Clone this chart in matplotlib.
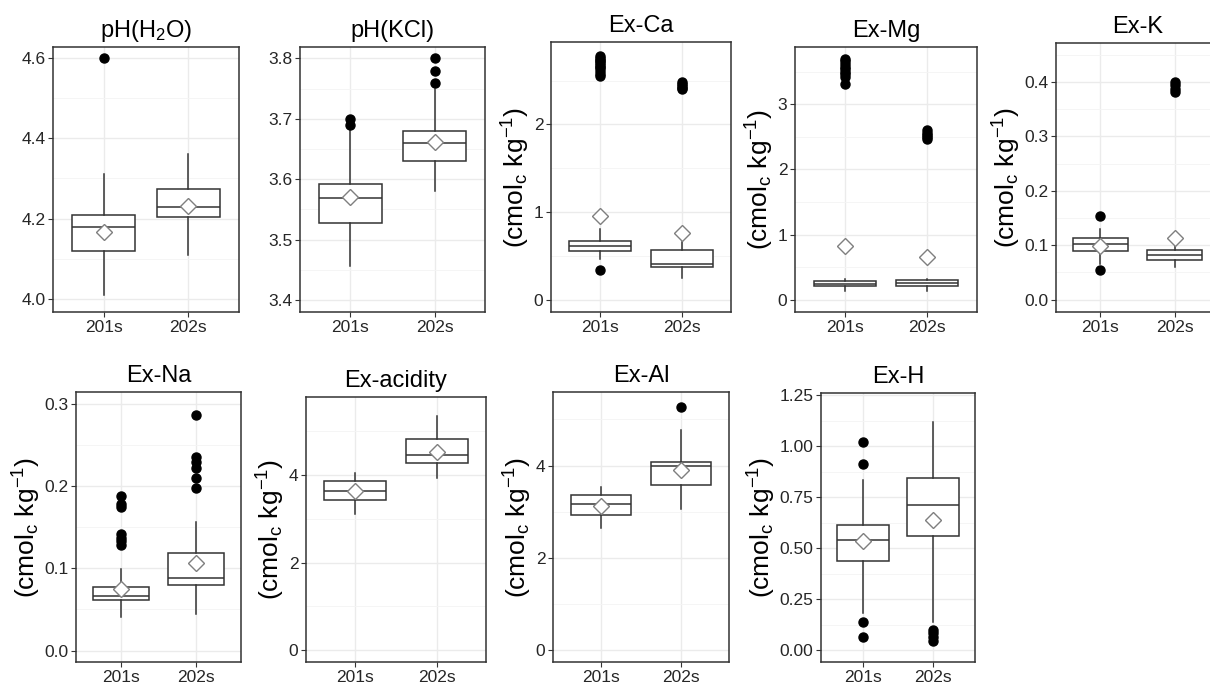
import matplotlib
matplotlib.use("Agg")
import matplotlib.pyplot as plt

plt.rcParams["font.family"] = ["Liberation Sans", "DejaVu Sans"]
plt.rcParams["mathtext.fontset"] = "custom"
plt.rcParams["mathtext.rm"] = "Liberation Sans"
plt.rcParams["mathtext.it"] = "Liberation Sans:italic"

# ---- data ----
groups = ["201s", "202s"]
titles = ["pH(H$_2$O)", "pH(KCl)", "Ex-Ca", "Ex-Mg", "Ex-K",
          "Ex-Na", "Ex-acidity", "Ex-Al", "Ex-H"]

q1 = [[4.12, 4.205], [3.528, 3.630], [0.555, 0.373], [0.205, 0.205], [0.090, 0.072],
      [0.062, 0.080], [3.42, 4.27], [2.92, 3.57], [0.439, 0.558]]
med = [[4.18, 4.23], [3.569, 3.660], [0.608, 0.41], [0.246, 0.25], [0.102, 0.082],
       [0.0667, 0.088], [3.63, 4.46], [3.16, 3.98], [0.542, 0.713]]
q3 = [[4.21, 4.275], [3.592, 3.680], [0.669, 0.563], [0.287, 0.297], [0.113, 0.092],
      [0.077, 0.119], [3.86, 4.81], [3.37, 4.07], [0.615, 0.843]]
whislo = [[4.01, 4.11], [3.457, 3.58], [0.47, 0.247], [0.13, 0.14], [0.066, 0.060],
          [0.041, 0.045], [3.12, 3.94], [2.65, 3.06], [0.183, 0.139]]
whishi = [[4.31, 4.36], [3.685, 3.75], [0.81, 0.66], [0.31, 0.32], [0.129, 0.103],
          [0.099, 0.157], [4.05, 5.34], [3.53, 4.76], [0.835, 1.117]]
means = [[4.167, 4.232], [3.570, 3.662], [0.954, 0.764], [0.82, 0.655], [0.098, 0.113],
         [0.075, 0.107], [3.63, 4.52], [3.12, 3.91], [0.537, 0.636]]
outliers = [
    [[4.60], []],
    [[3.69, 3.70], [3.76, 3.78, 3.80]],
    [[2.55, 2.58, 2.61, 2.64, 2.66, 2.68, 2.70, 2.72, 2.74, 2.76, 2.78, 0.34],
     [2.40, 2.42, 2.44, 2.46, 2.48]],
    [[3.31, 3.42, 3.46, 3.50, 3.54, 3.58, 3.62, 3.66, 3.70], [2.47, 2.50, 2.53, 2.56, 2.60]],
    [[0.153, 0.055], [0.382, 0.388, 0.394, 0.400]],
    [[0.188, 0.178, 0.175, 0.142, 0.137, 0.133, 0.128],
     [0.287, 0.236, 0.230, 0.222, 0.210, 0.198]],
    [[], []],
    [[], [5.26]],
    [[1.02, 0.91, 0.14, 0.065], [0.10, 0.085, 0.065, 0.048]],
]

yticks = [[4.0, 4.2, 4.4, 4.6], [3.4, 3.5, 3.6, 3.7, 3.8], [0, 1, 2], [0, 1, 2, 3],
          [0.0, 0.1, 0.2, 0.3, 0.4], [0.0, 0.1, 0.2, 0.3], [0, 2, 4], [0, 2, 4],
          [0.0, 0.25, 0.5, 0.75, 1.0, 1.25]]
ytick_labels = [["4.0", "4.2", "4.4", "4.6"], ["3.4", "3.5", "3.6", "3.7", "3.8"],
                ["0", "1", "2"], ["0", "1", "2", "3"],
                ["0.0", "0.1", "0.2", "0.3", "0.4"], ["0.0", "0.1", "0.2", "0.3"],
                ["0", "2", "4"], ["0", "2", "4"],
                ["0.00", "0.25", "0.50", "0.75", "1.00", "1.25"]]
ylims = [(3.968, 4.627), (3.38, 3.819), (-0.14, 2.94), (-0.19, 3.88), (-0.023, 0.472),
         (-0.014, 0.315), (-0.27, 5.78), (-0.25, 5.59), (-0.057, 1.26)]
ylabel = "(cmol$_\\mathrm{c}$ kg$^{\\mathrm{-1}}$)"

# ---- layout (pixel boxes: left, top, right, bottom) ----
W, H = 1210, 683
boxes = [(53, 47, 239, 312), (300, 47, 485, 312), (551, 42, 731, 312),
         (795, 47, 977, 312), (1056, 43, 1219, 312),
         (76, 392, 241, 662), (306, 397, 486, 662), (553, 392, 729, 662),
         (821, 393, 975, 662)]

fig = plt.figure(figsize=(W / 100, H / 100), dpi=100)
fig.patch.set_facecolor("white")

line_c = "#333333"
for i, title in enumerate(titles):
    l, t, r, b = boxes[i]
    ax = fig.add_axes([l / W, 1 - b / H, (r - l) / W, (b - t) / H])

    stats = []
    for g in range(2):
        stats.append(dict(med=med[i][g], q1=q1[i][g], q3=q3[i][g],
                          whislo=whislo[i][g], whishi=whishi[i][g],
                          mean=means[i][g], fliers=outliers[i][g]))
    ax.bxp(stats, positions=[1, 2], widths=0.75, showmeans=True,
           showcaps=False, patch_artist=True,
           boxprops=dict(facecolor="white", edgecolor=line_c, linewidth=1.1),
           medianprops=dict(color=line_c, linewidth=1.1),
           whiskerprops=dict(color=line_c, linewidth=1.1),
           flierprops=dict(marker="o", markerfacecolor="black", markeredgecolor="black",
                           markersize=6.5),
           meanprops=dict(marker="D", markerfacecolor="white", markeredgecolor="#7f7f7f",
                          markeredgewidth=1.0, markersize=8.5),
           zorder=3)

    ax.set_xlim(0.4, 2.6)
    ax.set_xticks([1, 2])
    ax.set_xticklabels(groups)
    ax.set_ylim(*ylims[i])
    ax.set_yticks(yticks[i])
    ax.set_yticklabels(ytick_labels[i])
    step = yticks[i][1] - yticks[i][0]
    minors = [v + step / 2 for v in yticks[i]] + [yticks[i][0] - step / 2]
    ax.set_yticks([m for m in minors if ylims[i][0] < m < ylims[i][1]], minor=True)

    ax.grid(True, which="major", color="#EBEBEB", linewidth=1.0, zorder=0)
    ax.grid(True, which="minor", axis="y", color="#F4F4F4", linewidth=0.6, zorder=0)
    ax.set_axisbelow(True)
    for s in ax.spines.values():
        s.set_color(line_c)
        s.set_linewidth(1.1)
    ax.tick_params(axis="both", which="major", length=3.5, width=0.8, color=line_c,
                   labelsize=12.5, labelcolor="#262626", pad=2)
    ax.tick_params(axis="y", which="minor", length=0)

    ax.set_title(title, fontsize=17, pad=7)
    if i >= 2:
        ax.set_ylabel(ylabel, fontsize=19, labelpad=1)

fig.savefig("out.png", dpi=100)
